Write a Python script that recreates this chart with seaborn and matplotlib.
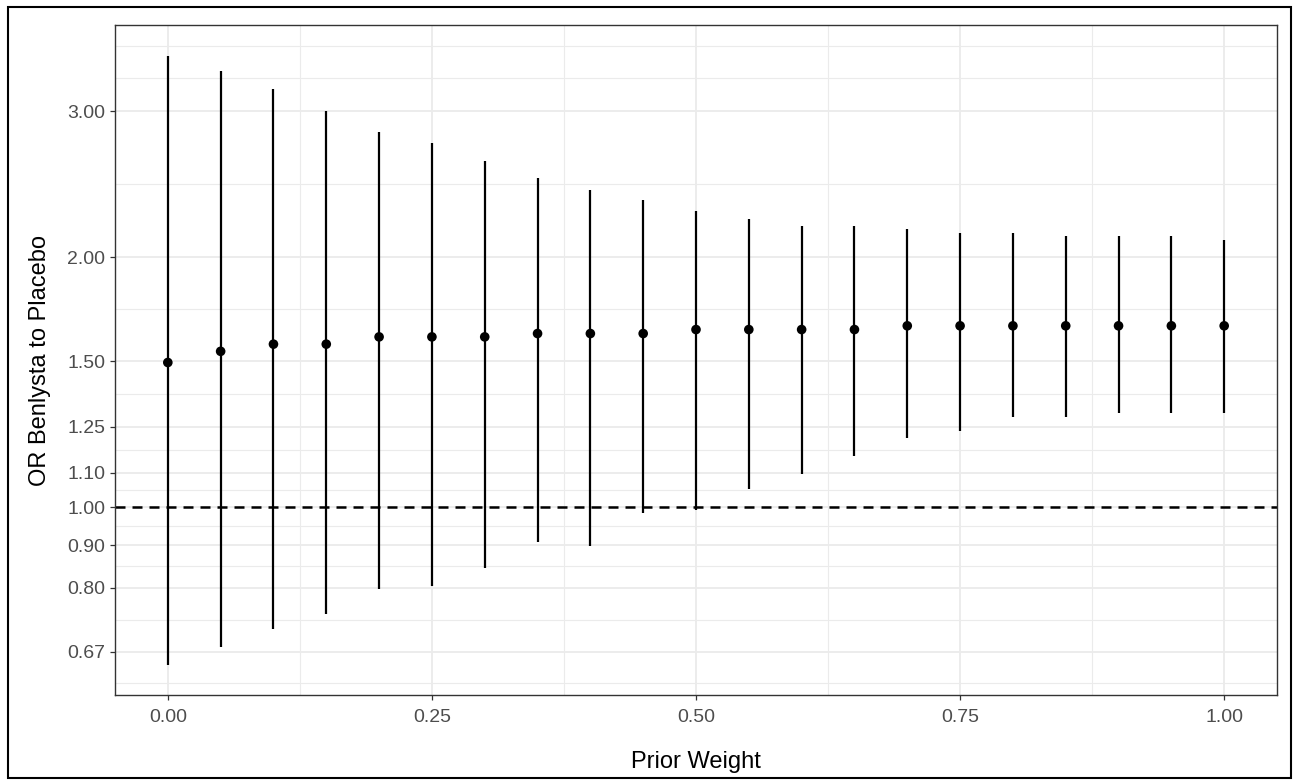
import numpy as np
import pandas as pd
import matplotlib
matplotlib.use("Agg")
import matplotlib.pyplot as plt
from matplotlib.patches import Rectangle
from matplotlib.ticker import FixedLocator, NullFormatter
import seaborn as sns

# values
prior_weight = [0.00, 0.05, 0.10, 0.15, 0.20, 0.25, 0.30, 0.35, 0.40, 0.45, 0.50,
                0.55, 0.60, 0.65, 0.70, 0.75, 0.80, 0.85, 0.90, 0.95, 1.00]
or_est = [1.494, 1.541, 1.572, 1.572, 1.604, 1.604, 1.604, 1.619, 1.619, 1.619, 1.637,
          1.637, 1.637, 1.637, 1.654, 1.654, 1.654, 1.654, 1.654, 1.654, 1.654]
or_lower = [0.645, 0.679, 0.714, 0.743, 0.796, 0.804, 0.846, 0.907, 0.898, 0.983, 0.992,
            1.053, 1.096, 1.153, 1.212, 1.235, 1.285, 1.285, 1.297, 1.297, 1.297]
or_upper = [3.497, 3.358, 3.194, 3.005, 2.832, 2.750, 2.613, 2.489, 2.414, 2.343, 2.275,
            2.227, 2.182, 2.182, 2.162, 2.140, 2.140, 2.121, 2.121, 2.121, 2.101]

y_breaks = [0.67, 0.80, 0.90, 1.00, 1.10, 1.25, 1.50, 2.00, 3.00]
y_extra_minor = [0.614, 3.29, 3.59]
x_breaks = [0.00, 0.25, 0.50, 0.75, 1.00]
x_minor = [0.125, 0.375, 0.625, 0.875]
ref_line = 1.0

df = pd.DataFrame({"weight": prior_weight, "est": or_est,
                   "lower": or_lower, "upper": or_upper})

sns.set_theme(style="white")
plt.rcParams["font.family"] = ["Liberation Sans", "DejaVu Sans"]

W, H = 1293, 781
fig = plt.figure(figsize=(W / 100, H / 100), dpi=100)
ax = fig.add_axes([115 / W, 1 - 695 / H, (1277 - 115) / W, (695 - 25) / H])

ax.set_yscale("log")

# error bars and point estimates
ax.vlines(df["weight"], df["lower"], df["upper"], color="black", lw=1.6, zorder=3)
sns.scatterplot(data=df, x="weight", y="est", color="black", s=48,
                edgecolor="none", zorder=4, ax=ax, legend=False)
ax.axhline(ref_line, color="black", lw=1.8, ls=(0, (4, 2.8)), zorder=2)

ax.set_xlim(-0.05, 1.05)
ax.set_ylim(0.594, 3.81)

# ticks / grid
ax.yaxis.set_major_locator(FixedLocator(y_breaks))
ax.set_yticklabels([f"{v:.2f}" for v in y_breaks])
mids = list(np.sqrt(np.array(y_breaks[:-1]) * np.array(y_breaks[1:])))
ax.yaxis.set_minor_locator(FixedLocator(mids + y_extra_minor))
ax.yaxis.set_minor_formatter(NullFormatter())
ax.set_xticks(x_breaks)
ax.set_xticklabels([f"{v:.2f}" for v in x_breaks])
ax.xaxis.set_minor_locator(FixedLocator(x_minor))

ax.grid(True, which="major", color="#EBEBEB", lw=1.3)
ax.grid(True, which="minor", color="#EBEBEB", lw=0.8)
ax.set_axisbelow(True)

ax.tick_params(which="major", direction="out", length=3.5, width=0.9,
               color="#333333", labelsize=14, labelcolor="#4D4D4D", pad=3.5,
               left=True, bottom=True)
ax.tick_params(axis="x", which="major", pad=6.5)
ax.tick_params(which="minor", length=0, left=False, bottom=False)

for s in ax.spines.values():
    s.set_color("#333333")
    s.set_linewidth(1.0)

ax.set_xlabel("Prior Weight", fontsize=17, color="black", labelpad=18)
ax.set_ylabel("OR Benlysta to Placebo", fontsize=17, color="black", labelpad=12)

# outer frame of the image
fig.add_artist(Rectangle((8 / W, 1 - 778 / H), (1291 - 8) / W, (778 - 7) / H,
                         transform=fig.transFigure, fill=False,
                         edgecolor="black", lw=1.5))

fig.savefig("out.png", dpi=100, facecolor="white")
